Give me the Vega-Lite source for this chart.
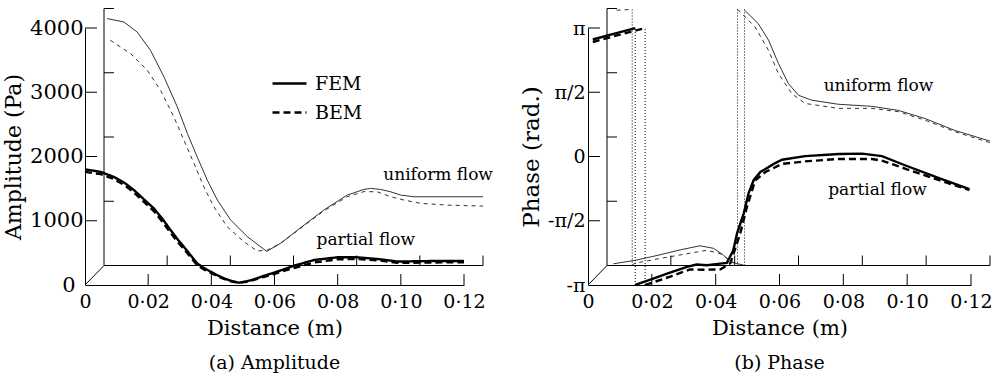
{
  "$schema": "https://vega.github.io/schema/vega-lite/v6.json",
  "autosize": {"type": "pad"},
  "padding": {"left": 2, "top": 7, "right": 5, "bottom": 5},
  "background": "white",
  "bounds": "flush",
  "spacing": 124,
  "config": {
    "font": "DejaVu Serif",
    "view": {"stroke": null},
    "axis": {"ticks": false, "grid": false, "domainColor": "black", "domainWidth": 1, "labelColor": "black", "titleColor": "black", "labelFontSize": 19, "titleFontSize": 21, "titleFontWeight": "normal", "labelFont": "DejaVu Serif", "titleFont": "DejaVu Serif", "labelOverlap": false, "labelFlush": false},
    "title": {"font": "DejaVu Serif", "fontSize": 19, "fontWeight": "normal", "color": "black"}
  },
  "datasets": {
    "amp": [
      {"flow":"partial","method":"FEM","x":0,"y":1800},{"flow":"partial","method":"FEM","x":0.005,"y":1760},{"flow":"partial","method":"FEM","x":0.0091,"y":1683},{"flow":"partial","method":"FEM","x":0.0125,"y":1590},{"flow":"partial","method":"FEM","x":0.0155,"y":1477},{"flow":"partial","method":"FEM","x":0.0185,"y":1340},{"flow":"partial","method":"FEM","x":0.0218,"y":1192},{"flow":"partial","method":"FEM","x":0.0245,"y":1030},{"flow":"partial","method":"FEM","x":0.0271,"y":855},{"flow":"partial","method":"FEM","x":0.0295,"y":700},{"flow":"partial","method":"FEM","x":0.0313,"y":595},{"flow":"partial","method":"FEM","x":0.0335,"y":460},{"flow":"partial","method":"FEM","x":0.0355,"y":337},{"flow":"partial","method":"FEM","x":0.0378,"y":260},{"flow":"partial","method":"FEM","x":0.0398,"y":207},{"flow":"partial","method":"FEM","x":0.042,"y":150},{"flow":"partial","method":"FEM","x":0.044,"y":104},{"flow":"partial","method":"FEM","x":0.0465,"y":60},{"flow":"partial","method":"FEM","x":0.0487,"y":36},{"flow":"partial","method":"FEM","x":0.051,"y":55},{"flow":"partial","method":"FEM","x":0.0535,"y":89},{"flow":"partial","method":"FEM","x":0.0565,"y":140},{"flow":"partial","method":"FEM","x":0.0598,"y":191},{"flow":"partial","method":"FEM","x":0.063,"y":245},{"flow":"partial","method":"FEM","x":0.0662,"y":300},{"flow":"partial","method":"FEM","x":0.0725,"y":389},{"flow":"partial","method":"FEM","x":0.0799,"y":431},{"flow":"partial","method":"FEM","x":0.0862,"y":431},{"flow":"partial","method":"FEM","x":0.0936,"y":400},{"flow":"partial","method":"FEM","x":0.0989,"y":365},{"flow":"partial","method":"FEM","x":0.1095,"y":373},{"flow":"partial","method":"FEM","x":0.12,"y":373},
      {"flow":"partial","method":"BEM","x":0,"y":1760},{"flow":"partial","method":"BEM","x":0.005,"y":1725},{"flow":"partial","method":"BEM","x":0.0091,"y":1650},{"flow":"partial","method":"BEM","x":0.0125,"y":1555},{"flow":"partial","method":"BEM","x":0.0155,"y":1440},{"flow":"partial","method":"BEM","x":0.0185,"y":1300},{"flow":"partial","method":"BEM","x":0.0218,"y":1150},{"flow":"partial","method":"BEM","x":0.0245,"y":985},{"flow":"partial","method":"BEM","x":0.0271,"y":810},{"flow":"partial","method":"BEM","x":0.0295,"y":660},{"flow":"partial","method":"BEM","x":0.0313,"y":560},{"flow":"partial","method":"BEM","x":0.0335,"y":430},{"flow":"partial","method":"BEM","x":0.0355,"y":310},{"flow":"partial","method":"BEM","x":0.0378,"y":240},{"flow":"partial","method":"BEM","x":0.0398,"y":190},{"flow":"partial","method":"BEM","x":0.042,"y":135},{"flow":"partial","method":"BEM","x":0.044,"y":95},{"flow":"partial","method":"BEM","x":0.0465,"y":55},{"flow":"partial","method":"BEM","x":0.0487,"y":35},{"flow":"partial","method":"BEM","x":0.051,"y":50},{"flow":"partial","method":"BEM","x":0.0535,"y":80},{"flow":"partial","method":"BEM","x":0.0565,"y":125},{"flow":"partial","method":"BEM","x":0.0598,"y":170},{"flow":"partial","method":"BEM","x":0.063,"y":220},{"flow":"partial","method":"BEM","x":0.0662,"y":265},{"flow":"partial","method":"BEM","x":0.0725,"y":350},{"flow":"partial","method":"BEM","x":0.0799,"y":400},{"flow":"partial","method":"BEM","x":0.0862,"y":405},{"flow":"partial","method":"BEM","x":0.0936,"y":380},{"flow":"partial","method":"BEM","x":0.0989,"y":345},{"flow":"partial","method":"BEM","x":0.1095,"y":350},{"flow":"partial","method":"BEM","x":0.12,"y":355},
      {"flow":"uniform","method":"FEM","x":0.001,"y":3843},{"flow":"uniform","method":"FEM","x":0.0063,"y":3790},{"flow":"uniform","method":"FEM","x":0.0105,"y":3634},{"flow":"uniform","method":"FEM","x":0.0147,"y":3350},{"flow":"uniform","method":"FEM","x":0.019,"y":2935},{"flow":"uniform","method":"FEM","x":0.0232,"y":2469},{"flow":"uniform","method":"FEM","x":0.0264,"y":2055},{"flow":"uniform","method":"FEM","x":0.0295,"y":1691},{"flow":"uniform","method":"FEM","x":0.0327,"y":1329},{"flow":"uniform","method":"FEM","x":0.0359,"y":1018},{"flow":"uniform","method":"FEM","x":0.0401,"y":707},{"flow":"uniform","method":"FEM","x":0.0454,"y":448},{"flow":"uniform","method":"FEM","x":0.0515,"y":220},{"flow":"uniform","method":"FEM","x":0.0559,"y":345},{"flow":"uniform","method":"FEM","x":0.0623,"y":590},{"flow":"uniform","method":"FEM","x":0.0696,"y":863},{"flow":"uniform","method":"FEM","x":0.077,"y":1096},{"flow":"uniform","method":"FEM","x":0.0823,"y":1184},{"flow":"uniform","method":"FEM","x":0.0844,"y":1200},{"flow":"uniform","method":"FEM","x":0.0876,"y":1184},{"flow":"uniform","method":"FEM","x":0.0908,"y":1147},{"flow":"uniform","method":"FEM","x":0.094,"y":1096},{"flow":"uniform","method":"FEM","x":0.0981,"y":1070},{"flow":"uniform","method":"FEM","x":0.12,"y":1070},
      {"flow":"uniform","method":"BEM","x":0.002,"y":3505},{"flow":"uniform","method":"BEM","x":0.0084,"y":3299},{"flow":"uniform","method":"BEM","x":0.0137,"y":3039},{"flow":"uniform","method":"BEM","x":0.0179,"y":2728},{"flow":"uniform","method":"BEM","x":0.0221,"y":2313},{"flow":"uniform","method":"BEM","x":0.0253,"y":1951},{"flow":"uniform","method":"BEM","x":0.0285,"y":1589},{"flow":"uniform","method":"BEM","x":0.0316,"y":1225},{"flow":"uniform","method":"BEM","x":0.0348,"y":914},{"flow":"uniform","method":"BEM","x":0.039,"y":603},{"flow":"uniform","method":"BEM","x":0.0443,"y":370},{"flow":"uniform","method":"BEM","x":0.0485,"y":225},{"flow":"uniform","method":"BEM","x":0.0517,"y":240},{"flow":"uniform","method":"BEM","x":0.0559,"y":345},{"flow":"uniform","method":"BEM","x":0.0623,"y":580},{"flow":"uniform","method":"BEM","x":0.0696,"y":850},{"flow":"uniform","method":"BEM","x":0.077,"y":1070},{"flow":"uniform","method":"BEM","x":0.0823,"y":1150},{"flow":"uniform","method":"BEM","x":0.0865,"y":1147},{"flow":"uniform","method":"BEM","x":0.0908,"y":1070},{"flow":"uniform","method":"BEM","x":0.095,"y":1018},{"flow":"uniform","method":"BEM","x":0.1003,"y":967},{"flow":"uniform","method":"BEM","x":0.1087,"y":940},{"flow":"uniform","method":"BEM","x":0.12,"y":925}
    ],
    "phase": [
      {"flow":"partial","method":"FEM","seg":"a","x":0.0015,"y":2.86},{"flow":"partial","method":"FEM","seg":"a","x":0.008,"y":3.0},{"flow":"partial","method":"FEM","seg":"a","x":0.0148,"y":3.14},
      {"flow":"partial","method":"FEM","seg":"b","x":0.0148,"y":-3.14},{"flow":"partial","method":"FEM","seg":"b","x":0.02,"y":-3.0},{"flow":"partial","method":"FEM","seg":"b","x":0.025,"y":-2.86},{"flow":"partial","method":"FEM","seg":"b","x":0.031,"y":-2.7},{"flow":"partial","method":"FEM","seg":"b","x":0.034,"y":-2.64},{"flow":"partial","method":"FEM","seg":"b","x":0.0373,"y":-2.66},{"flow":"partial","method":"FEM","seg":"b","x":0.04,"y":-2.63},{"flow":"partial","method":"FEM","seg":"b","x":0.0435,"y":-2.6},{"flow":"partial","method":"FEM","seg":"b","x":0.0455,"y":-2.3},{"flow":"partial","method":"FEM","seg":"b","x":0.0467,"y":-1.88},{"flow":"partial","method":"FEM","seg":"b","x":0.0488,"y":-1.39},{"flow":"partial","method":"FEM","seg":"b","x":0.0503,"y":-0.9},{"flow":"partial","method":"FEM","seg":"b","x":0.0519,"y":-0.58},{"flow":"partial","method":"FEM","seg":"b","x":0.054,"y":-0.38},{"flow":"partial","method":"FEM","seg":"b","x":0.0582,"y":-0.18},{"flow":"partial","method":"FEM","seg":"b","x":0.0608,"y":-0.08},{"flow":"partial","method":"FEM","seg":"b","x":0.068,"y":0.01},{"flow":"partial","method":"FEM","seg":"b","x":0.0786,"y":0.06},{"flow":"partial","method":"FEM","seg":"b","x":0.0859,"y":0.07},{"flow":"partial","method":"FEM","seg":"b","x":0.0921,"y":0.01},{"flow":"partial","method":"FEM","seg":"b","x":0.0995,"y":-0.22},{"flow":"partial","method":"FEM","seg":"b","x":0.11,"y":-0.53},{"flow":"partial","method":"FEM","seg":"b","x":0.1195,"y":-0.8},
      {"flow":"partial","method":"BEM","seg":"a","x":0.0015,"y":2.8},{"flow":"partial","method":"BEM","seg":"a","x":0.01,"y":2.98},{"flow":"partial","method":"BEM","seg":"a","x":0.0179,"y":3.14},
      {"flow":"partial","method":"BEM","seg":"b","x":0.0179,"y":-3.14},{"flow":"partial","method":"BEM","seg":"b","x":0.0195,"y":-3.1},{"flow":"partial","method":"BEM","seg":"b","x":0.026,"y":-2.93},{"flow":"partial","method":"BEM","seg":"b","x":0.032,"y":-2.76},{"flow":"partial","method":"BEM","seg":"b","x":0.036,"y":-2.77},{"flow":"partial","method":"BEM","seg":"b","x":0.0415,"y":-2.76},{"flow":"partial","method":"BEM","seg":"b","x":0.0446,"y":-2.61},{"flow":"partial","method":"BEM","seg":"b","x":0.0477,"y":-1.88},{"flow":"partial","method":"BEM","seg":"b","x":0.0498,"y":-1.23},{"flow":"partial","method":"BEM","seg":"b","x":0.0524,"y":-0.58},{"flow":"partial","method":"BEM","seg":"b","x":0.0556,"y":-0.38},{"flow":"partial","method":"BEM","seg":"b","x":0.0608,"y":-0.18},{"flow":"partial","method":"BEM","seg":"b","x":0.068,"y":-0.12},{"flow":"partial","method":"BEM","seg":"b","x":0.0786,"y":-0.06},{"flow":"partial","method":"BEM","seg":"b","x":0.089,"y":-0.06},{"flow":"partial","method":"BEM","seg":"b","x":0.092,"y":-0.1},{"flow":"partial","method":"BEM","seg":"b","x":0.0995,"y":-0.3},{"flow":"partial","method":"BEM","seg":"b","x":0.11,"y":-0.58},{"flow":"partial","method":"BEM","seg":"b","x":0.1195,"y":-0.82},
      {"flow":"uniform","method":"FEM","seg":"a","x":0.002,"y":-3.1},{"flow":"uniform","method":"FEM","seg":"a","x":0.0092,"y":-3.01},{"flow":"uniform","method":"FEM","seg":"a","x":0.0166,"y":-2.88},{"flow":"uniform","method":"FEM","seg":"a","x":0.0229,"y":-2.76},{"flow":"uniform","method":"FEM","seg":"a","x":0.0291,"y":-2.66},{"flow":"uniform","method":"FEM","seg":"a","x":0.0333,"y":-2.72},{"flow":"uniform","method":"FEM","seg":"a","x":0.0364,"y":-2.88},{"flow":"uniform","method":"FEM","seg":"a","x":0.0385,"y":-3.05},{"flow":"uniform","method":"FEM","seg":"a","x":0.0431,"y":-3.14},
      {"flow":"uniform","method":"FEM","seg":"b","x":0.0431,"y":3.1},{"flow":"uniform","method":"FEM","seg":"b","x":0.0474,"y":2.77},{"flow":"uniform","method":"FEM","seg":"b","x":0.0506,"y":2.37},{"flow":"uniform","method":"FEM","seg":"b","x":0.0537,"y":1.8},{"flow":"uniform","method":"FEM","seg":"b","x":0.0568,"y":1.31},{"flow":"uniform","method":"FEM","seg":"b","x":0.06,"y":1.02},{"flow":"uniform","method":"FEM","seg":"b","x":0.0641,"y":0.9},{"flow":"uniform","method":"FEM","seg":"b","x":0.0725,"y":0.8},{"flow":"uniform","method":"FEM","seg":"b","x":0.083,"y":0.75},{"flow":"uniform","method":"FEM","seg":"b","x":0.0913,"y":0.65},{"flow":"uniform","method":"FEM","seg":"b","x":0.0997,"y":0.45},{"flow":"uniform","method":"FEM","seg":"b","x":0.109,"y":0.16},{"flow":"uniform","method":"FEM","seg":"b","x":0.12,"y":-0.1},
      {"flow":"uniform","method":"BEM","seg":"a","x":0.003,"y":3.1},{"flow":"uniform","method":"BEM","seg":"a","x":0.0079,"y":3.12},
      {"flow":"uniform","method":"BEM","seg":"b","x":0.0079,"y":-3.14},{"flow":"uniform","method":"BEM","seg":"b","x":0.0085,"y":-3.09},{"flow":"uniform","method":"BEM","seg":"b","x":0.0166,"y":-2.97},{"flow":"uniform","method":"BEM","seg":"b","x":0.0239,"y":-2.87},{"flow":"uniform","method":"BEM","seg":"b","x":0.0312,"y":-2.77},{"flow":"uniform","method":"BEM","seg":"b","x":0.0354,"y":-2.85},{"flow":"uniform","method":"BEM","seg":"b","x":0.0385,"y":-3.01},{"flow":"uniform","method":"BEM","seg":"b","x":0.0409,"y":-3.14},
      {"flow":"uniform","method":"BEM","seg":"c","x":0.0409,"y":3.12},{"flow":"uniform","method":"BEM","seg":"c","x":0.0464,"y":2.69},{"flow":"uniform","method":"BEM","seg":"c","x":0.0506,"y":2.12},{"flow":"uniform","method":"BEM","seg":"c","x":0.0537,"y":1.55},{"flow":"uniform","method":"BEM","seg":"c","x":0.0579,"y":1.06},{"flow":"uniform","method":"BEM","seg":"c","x":0.0621,"y":0.82},{"flow":"uniform","method":"BEM","seg":"c","x":0.0725,"y":0.7},{"flow":"uniform","method":"BEM","seg":"c","x":0.083,"y":0.7},{"flow":"uniform","method":"BEM","seg":"c","x":0.0913,"y":0.62},{"flow":"uniform","method":"BEM","seg":"c","x":0.0997,"y":0.41},{"flow":"uniform","method":"BEM","seg":"c","x":0.109,"y":0.13},{"flow":"uniform","method":"BEM","seg":"c","x":0.12,"y":-0.14}
    ],
    "wraps": [
      {"plane":"front","method":"FEM","x":0.0148},{"plane":"front","method":"BEM","x":0.0179},
      {"plane":"back","method":"BEM","x":0.0079},{"plane":"back","method":"BEM","x":0.0409},{"plane":"back","method":"FEM","x":0.0431}
    ],
    "xticks": [{"x":0.02},{"x":0.04},{"x":0.06},{"x":0.08},{"x":0.1},{"x":0.12}],
    "ampYticks": [{"y":1000},{"y":2000},{"y":3000},{"y":4000}],
    "phaseYticks": [{"y":-1.5707963},{"y":0},{"y":1.5707963},{"y":3.14159265}],
    "ampFrame": [{"x":0,"x2":0.12,"y":0,"y2":0},{"x":0,"x2":0,"y":0,"y2":4000}],
    "phaseFrame": [{"x":0,"x2":0.12,"y":-3.14159265,"y2":-3.14159265},{"x":0,"x2":0,"y":-3.14159265,"y2":3.14159265}],
    "ampLabels": [{"x":0.1118,"y":1712,"text":"uniform flow"},{"x":0.0889,"y":700,"text":"partial flow"}],
    "phaseLabels": [{"x":0.091,"y":1.723,"text":"uniform flow"},{"x":0.0907,"y":-0.82,"text":"partial flow"}]
  },
  "hconcat": [
    {
      "width": 379,
      "height": 257,
      "title": {"text": "(a) Amplitude", "orient": "bottom", "offset": 16},
      "layer": [
        {
          "data": {"name": "amp"},
          "transform": [{"filter": "datum.flow == 'partial'"}],
          "mark": {"type": "line", "color": "black", "strokeWidth": 2.4},
          "encoding": {
            "x": {"field": "x", "type": "quantitative", "title": "Distance (m)", "scale": {"domain": [0, 0.12], "nice": false, "zero": false},
              "axis": {"values": [0, 0.02, 0.04, 0.06, 0.08, 0.1, 0.12], "labelExpr": "datum.value == 0 ? '0' : replace(format(datum.value, '.2f'), '.', '·')", "labelPadding": 7, "titlePadding": 6}},
            "y": {"field": "y", "type": "quantitative", "title": "Amplitude (Pa)", "scale": {"domain": [0, 4000], "nice": false, "zero": false},
              "axis": {"values": [0, 1000, 2000, 3000, 4000], "format": "d", "labelFontSize": 21, "labelPadding": {"condition": {"test": "datum.value == 0", "value": 10}, "value": 2}, "titleFontSize": 22, "titlePadding": 4}},
            "strokeDash": {"field": "method", "type": "nominal", "scale": {"domain": ["FEM", "BEM"], "range": [[1, 0], [7, 4]]},
              "legend": {"orient": "none", "legendX": 186, "legendY": 37, "title": null, "symbolType": "stroke", "symbolSize": 1156, "symbolStrokeWidth": 2.4, "symbolStrokeColor": "black", "labelFontSize": 19, "labelFont": "DejaVu Serif", "labelColor": "black", "labelOffset": 7, "rowPadding": 0, "padding": 0}}
          }
        },
        {
          "data": {"name": "amp"},
          "transform": [{"filter": "datum.flow == 'uniform' && datum.method == 'FEM'"}],
          "mark": {"type": "line", "color": "#333", "strokeWidth": 1, "xOffset": 19, "yOffset": -19.5},
          "encoding": {"x": {"field": "x", "type": "quantitative", "title": "Distance (m)"}, "y": {"field": "y", "type": "quantitative", "title": "Amplitude (Pa)"}}
        },
        {
          "data": {"name": "amp"},
          "transform": [{"filter": "datum.flow == 'uniform' && datum.method == 'BEM'"}],
          "mark": {"type": "line", "color": "#333", "strokeWidth": 1, "strokeDash": [4, 4], "xOffset": 19, "yOffset": -19.5},
          "encoding": {"x": {"field": "x", "type": "quantitative", "title": "Distance (m)"}, "y": {"field": "y", "type": "quantitative", "title": "Amplitude (Pa)"}}
        },
        {
          "data": {"name": "xticks"},
          "mark": {"type": "rule", "color": "black", "strokeWidth": 1, "y2Offset": -11},
          "encoding": {"x": {"field": "x", "type": "quantitative", "title": "Distance (m)"}, "y": {"datum": 0}, "y2": {"datum": 0}}
        },
        {
          "data": {"name": "xticks"},
          "mark": {"type": "rule", "color": "black", "strokeWidth": 1, "xOffset": 19, "yOffset": -19.5, "y2Offset": -29.5},
          "encoding": {"x": {"field": "x", "type": "quantitative", "title": "Distance (m)"}, "y": {"datum": 0}, "y2": {"datum": 0}}
        },
        {
          "data": {"name": "ampYticks"},
          "mark": {"type": "rule", "color": "black", "strokeWidth": 1, "x2Offset": 12},
          "encoding": {"y": {"field": "y", "type": "quantitative", "title": "Amplitude (Pa)"}, "x": {"datum": 0}, "x2": {"datum": 0}}
        },
        {
          "data": {"name": "ampYticks"},
          "mark": {"type": "rule", "color": "black", "strokeWidth": 1, "xOffset": 19, "x2Offset": 29, "yOffset": -19.5, "y2Offset": -19.5},
          "encoding": {"y": {"field": "y", "type": "quantitative", "title": "Amplitude (Pa)"}, "y2": {"field": "y"}, "x": {"datum": 0}, "x2": {"datum": 0}}
        },
        {
          "data": {"name": "ampFrame"},
          "mark": {"type": "rule", "color": "black", "strokeWidth": 1, "xOffset": 19, "x2Offset": 19, "yOffset": -19.5, "y2Offset": -19.5},
          "encoding": {"x": {"field": "x", "type": "quantitative", "title": "Distance (m)"}, "x2": {"field": "x2"}, "y": {"field": "y", "type": "quantitative", "title": "Amplitude (Pa)"}, "y2": {"field": "y2"}}
        },
        {
          "data": {"name": "ampFrame"},
          "transform": [{"filter": "datum.x2 == 0"}],
          "mark": {"type": "rule", "color": "black", "strokeWidth": 1, "x2Offset": 19, "y2Offset": -19.5},
          "encoding": {"x": {"field": "x", "type": "quantitative", "title": "Distance (m)"}, "x2": {"field": "x"}, "y": {"field": "y", "type": "quantitative", "title": "Amplitude (Pa)"}, "y2": {"field": "y"}}
        },
        {
          "data": {"name": "ampLabels"},
          "mark": {"type": "text", "fontSize": 17, "font": "DejaVu Serif", "color": "black", "align": "center", "baseline": "middle"},
          "encoding": {"x": {"field": "x", "type": "quantitative", "title": "Distance (m)"}, "y": {"field": "y", "type": "quantitative", "title": "Amplitude (Pa)"}, "text": {"field": "text"}}
        }
      ]
    },
    {
      "width": 383,
      "height": 257,
      "title": {"text": "(b) Phase", "orient": "bottom", "offset": 16},
      "layer": [
        {
          "data": {"name": "phase"},
          "transform": [{"filter": "datum.flow == 'partial' && datum.method == 'FEM'"}],
          "mark": {"type": "line", "color": "black", "strokeWidth": 2.4},
          "encoding": {
            "x": {"field": "x", "type": "quantitative", "title": "Distance (m)", "scale": {"domain": [0, 0.12], "nice": false, "zero": false},
              "axis": {"values": [0, 0.02, 0.04, 0.06, 0.08, 0.1, 0.12], "labelExpr": "datum.value == 0 ? '0' : replace(format(datum.value, '.2f'), '.', '·')", "labelPadding": 7, "titlePadding": 6}},
            "y": {"field": "y", "type": "quantitative", "title": "Phase (rad.)", "scale": {"domain": [-3.14159265, 3.14159265], "nice": false, "zero": false},
              "axis": {"values": [-3.14159265, -1.5707963, 0, 1.5707963, 3.14159265], "labelExpr": "datum.value > 3 ? 'π' : datum.value > 1 ? 'π/2' : datum.value > -1 ? '0' : datum.value > -2 ? '-π/2' : '-π'", "labelPadding": 3, "titleFontSize": 23, "titlePadding": 4}},
            "detail": {"field": "seg"}
          }
        },
        {
          "data": {"name": "phase"},
          "transform": [{"filter": "datum.flow == 'partial' && datum.method == 'BEM'"}],
          "mark": {"type": "line", "color": "black", "strokeWidth": 2.4, "strokeDash": [7, 4]},
          "encoding": {"x": {"field": "x", "type": "quantitative", "title": "Distance (m)"}, "y": {"field": "y", "type": "quantitative", "title": "Phase (rad.)"}, "detail": {"field": "seg"}}
        },
        {
          "data": {"name": "phase"},
          "transform": [{"filter": "datum.flow == 'uniform' && datum.method == 'FEM'"}],
          "mark": {"type": "line", "color": "#333", "strokeWidth": 1, "xOffset": 19, "yOffset": -19.5},
          "encoding": {"x": {"field": "x", "type": "quantitative", "title": "Distance (m)"}, "y": {"field": "y", "type": "quantitative", "title": "Phase (rad.)"}, "detail": {"field": "seg"}}
        },
        {
          "data": {"name": "phase"},
          "transform": [{"filter": "datum.flow == 'uniform' && datum.method == 'BEM'"}],
          "mark": {"type": "line", "color": "#333", "strokeWidth": 1, "strokeDash": [4, 4], "xOffset": 19, "yOffset": -19.5},
          "encoding": {"x": {"field": "x", "type": "quantitative", "title": "Distance (m)"}, "y": {"field": "y", "type": "quantitative", "title": "Phase (rad.)"}, "detail": {"field": "seg"}}
        },
        {
          "data": {"name": "wraps"},
          "transform": [{"filter": "datum.plane == 'front'"}],
          "mark": {"type": "rule", "color": "black", "strokeWidth": 1, "strokeDash": [1, 2]},
          "encoding": {"x": {"field": "x", "type": "quantitative", "title": "Distance (m)"}, "y": {"datum": -3.14159265}, "y2": {"datum": 3.14159265}}
        },
        {
          "data": {"name": "wraps"},
          "transform": [{"filter": "datum.plane == 'back'"}],
          "mark": {"type": "rule", "color": "black", "strokeWidth": 1, "strokeDash": [1, 2], "xOffset": 19, "yOffset": -19.5, "y2Offset": -19.5},
          "encoding": {"x": {"field": "x", "type": "quantitative", "title": "Distance (m)"}, "y": {"datum": -3.14159265}, "y2": {"datum": 3.14159265}}
        },
        {
          "data": {"name": "xticks"},
          "mark": {"type": "rule", "color": "black", "strokeWidth": 1, "y2Offset": -11},
          "encoding": {"x": {"field": "x", "type": "quantitative", "title": "Distance (m)"}, "y": {"datum": -3.14159265}, "y2": {"datum": -3.14159265}}
        },
        {
          "data": {"name": "xticks"},
          "mark": {"type": "rule", "color": "black", "strokeWidth": 1, "xOffset": 19, "yOffset": -19.5, "y2Offset": -29.5},
          "encoding": {"x": {"field": "x", "type": "quantitative", "title": "Distance (m)"}, "y": {"datum": -3.14159265}, "y2": {"datum": -3.14159265}}
        },
        {
          "data": {"name": "phaseYticks"},
          "mark": {"type": "rule", "color": "black", "strokeWidth": 1, "x2Offset": 12},
          "encoding": {"y": {"field": "y", "type": "quantitative", "title": "Phase (rad.)"}, "x": {"datum": 0}, "x2": {"datum": 0}}
        },
        {
          "data": {"name": "phaseYticks"},
          "mark": {"type": "rule", "color": "black", "strokeWidth": 1, "xOffset": 19, "x2Offset": 29, "yOffset": -19.5, "y2Offset": -19.5},
          "encoding": {"y": {"field": "y", "type": "quantitative", "title": "Phase (rad.)"}, "y2": {"field": "y"}, "x": {"datum": 0}, "x2": {"datum": 0}}
        },
        {
          "data": {"name": "phaseFrame"},
          "mark": {"type": "rule", "color": "black", "strokeWidth": 1, "xOffset": 19, "x2Offset": 19, "yOffset": -19.5, "y2Offset": -19.5},
          "encoding": {"x": {"field": "x", "type": "quantitative", "title": "Distance (m)"}, "x2": {"field": "x2"}, "y": {"field": "y", "type": "quantitative", "title": "Phase (rad.)"}, "y2": {"field": "y2"}}
        },
        {
          "data": {"name": "phaseFrame"},
          "transform": [{"filter": "datum.x2 == 0"}],
          "mark": {"type": "rule", "color": "black", "strokeWidth": 1, "x2Offset": 19, "y2Offset": -19.5},
          "encoding": {"x": {"field": "x", "type": "quantitative", "title": "Distance (m)"}, "x2": {"field": "x"}, "y": {"field": "y", "type": "quantitative", "title": "Phase (rad.)"}, "y2": {"field": "y"}}
        },
        {
          "data": {"name": "phaseLabels"},
          "mark": {"type": "text", "fontSize": 17, "font": "DejaVu Serif", "color": "black", "align": "center", "baseline": "middle"},
          "encoding": {"x": {"field": "x", "type": "quantitative", "title": "Distance (m)"}, "y": {"field": "y", "type": "quantitative", "title": "Phase (rad.)"}, "text": {"field": "text"}}
        }
      ]
    }
  ]
}
